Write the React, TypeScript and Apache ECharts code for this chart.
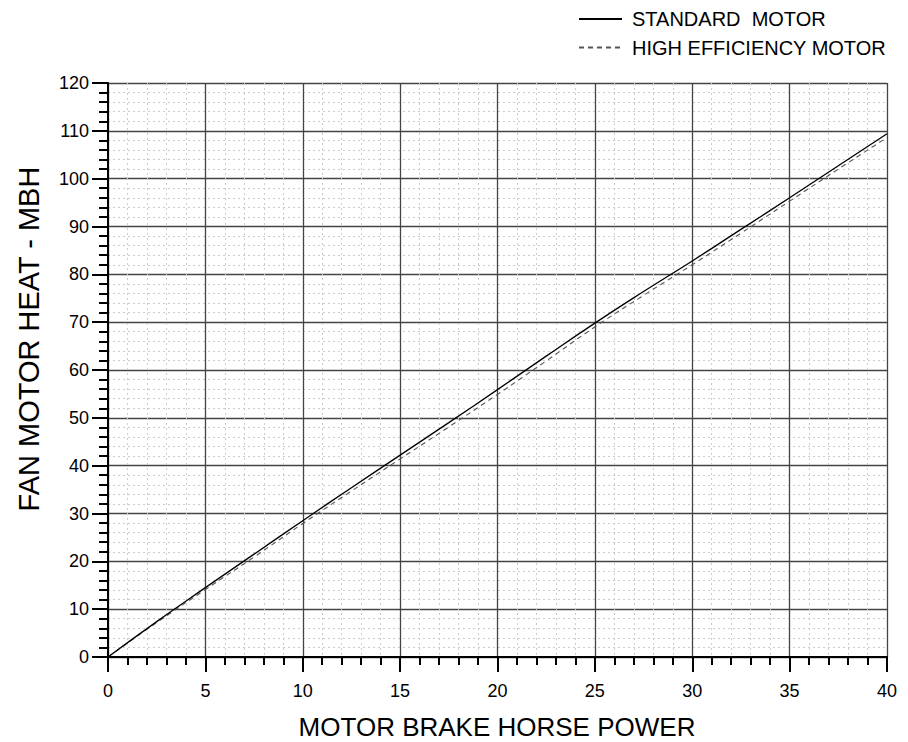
import React, { useEffect, useRef } from "react";
import * as echarts from "echarts";

const bhp = [0, 2.5, 5, 7.5, 10, 12.5, 15, 17.5, 20, 22.5, 25, 27.5, 30, 32.5, 35, 37.5, 40];
const standardMotor = [0, 7.4, 14.5, 21.5, 28.5, 35.4, 42.2, 49.0, 55.9, 62.9, 69.8, 76.4, 82.8, 89.4, 96.0, 102.7, 109.4];
const highEfficiencyMotor = [0, 7.2, 14.1, 20.9, 27.9, 34.7, 41.4, 48.1, 54.9, 61.9, 69.0, 75.6, 82.0, 88.6, 95.3, 102.0, 108.6];
const seriesNames = ["STANDARD  MOTOR", "HIGH EFFICIENCY MOTOR"];
const xTitle = "MOTOR BRAKE HORSE POWER";
const yTitle = "FAN MOTOR HEAT - MBH";

const FONT = "'Liberation Sans', Arial, sans-serif";

export default function App() {
  const ref = useRef<HTMLDivElement>(null);
  useEffect(() => {
    if (!ref.current) return;
    const chart = echarts.init(ref.current, undefined, { renderer: "svg" });
    const axisCommon = {
      type: "value" as const,
      axisLine: { show: true, onZero: false, lineStyle: { color: "#000", width: 2 } },
      axisTick: { show: true, inside: false, lineStyle: { color: "#000", width: 2 } },
      minorTick: { show: true, splitNumber: 5, lineStyle: { color: "#000", width: 2 } },
      splitLine: { show: true, lineStyle: { color: "#444", width: 1.3 } },
      minorSplitLine: { show: true, lineStyle: { color: "#cccccc", width: 1, type: [2, 3] } },
      axisLabel: { color: "#000", fontSize: 18, fontFamily: FONT },
    };
    chart.setOption({
      animation: false,
      backgroundColor: "#fff",
      textStyle: { fontFamily: FONT },
      grid: { left: 108, right: 21, top: 83, bottom: 85, containLabel: false },
      legend: {
        show: true,
        orient: "vertical",
        left: 573,
        top: 4,
        itemWidth: 43,
        itemHeight: 20,
        itemGap: 8.5,
        itemStyle: { opacity: 0, borderWidth: 0 },
        textStyle: { color: "#000", fontSize: 20, fontFamily: FONT, lineHeight: 20, padding: [0, 0, 0, 5] },
        data: seriesNames,
      },
      xAxis: {
        ...axisCommon,
        min: 0,
        max: 40,
        interval: 5,
        axisTick: { ...axisCommon.axisTick, length: 15 },
        minorTick: { ...axisCommon.minorTick, length: 8 },
        axisLabel: { ...axisCommon.axisLabel, margin: 25 },
      },
      yAxis: {
        ...axisCommon,
        min: 0,
        max: 120,
        interval: 10,
        axisTick: { ...axisCommon.axisTick, length: 16 },
        minorTick: { ...axisCommon.minorTick, length: 9 },
        axisLabel: { ...axisCommon.axisLabel, margin: 19 },
      },
      graphic: [
        {
          type: "text",
          x: 497,
          y: 714,
          style: { text: xTitle, fill: "#000", fontSize: 26, lineHeight: 26, fontFamily: FONT, align: "center", verticalAlign: "top" },
        },
        {
          type: "text",
          x: 14,
          y: 339,
          rotation: Math.PI / 2,
          style: { text: yTitle, fill: "#000", fontSize: 29, fontFamily: FONT, align: "center", verticalAlign: "top" },
        },
      ],
      series: [
        {
          name: seriesNames[0],
          type: "line",
          symbol: "none",
          smooth: true,
          data: bhp.map((x, i) => [x, standardMotor[i]]),
          lineStyle: { color: "#000", width: 1.3, type: "solid" },
          itemStyle: { color: "#000" },
          z: 3,
        },
        {
          name: seriesNames[1],
          type: "line",
          symbol: "none",
          smooth: true,
          data: bhp.map((x, i) => [x, highEfficiencyMotor[i]]),
          lineStyle: { color: "#555", width: 1.1, type: [5, 4] },
          itemStyle: { color: "#555" },
          z: 2,
        },
      ],
    });
    return () => chart.dispose();
  }, []);
  return <div ref={ref} style={{ position: "absolute", left: 0, top: 0, width: 908, height: 742 }} />;
}
